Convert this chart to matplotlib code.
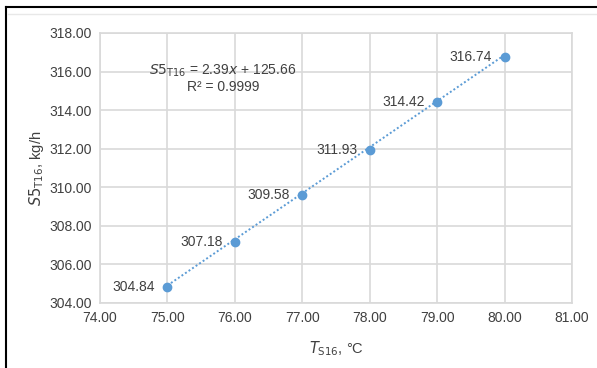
import matplotlib
matplotlib.use("Agg")
import matplotlib.pyplot as plt
import numpy as np
from matplotlib.lines import Line2D

x_vals = [75.0, 76.0, 77.0, 78.0, 79.0, 80.0]
y_vals = [304.84, 307.18, 309.58, 311.93, 314.42, 316.74]
labels = ["304.84", "307.18", "309.58", "311.93", "314.42", "316.74"]
slope, intercept = 2.39, 125.66
x_ticks = [74, 75, 76, 77, 78, 79, 80, 81]
y_ticks = [304, 306, 308, 310, 312, 314, 316, 318]

plt.rcParams['font.family'] = ['Liberation Sans Narrow', 'Liberation Sans', 'DejaVu Sans']
txt = '#404040'
blue = '#5b9bd5'

fig = plt.figure(figsize=(5.97, 3.68), dpi=100)
ax = fig.add_axes([100/597, 1-303/368, 472/597, 270/368])

# trendline
xt = np.array([x_vals[0], x_vals[-1]])
ax.plot(xt, slope*xt + intercept, linestyle=(0, (1, 1.2)), color=blue, lw=1.4, zorder=3)
ax.plot(x_vals, y_vals, 'o', color=blue, ms=6, zorder=4)
for x, y, l in zip(x_vals, y_vals, labels):
    ax.annotate(l, (x, y), xytext=(-9, 0), textcoords='offset points', ha='right',
                va='center', fontsize=10, color=txt)

ax.set_xlim(74, 81)
ax.set_ylim(304, 318)
ax.set_xticks(x_ticks)
ax.set_yticks(y_ticks)
ax.set_xticklabels([f"{v:.2f}" for v in x_ticks])
ax.set_yticklabels([f"{v:.2f}" for v in y_ticks])
ax.grid(True, color='#d9d9d9', lw=1.2)
ax.set_axisbelow(True)
for s in ax.spines.values():
    s.set_color('#d9d9d9')
    s.set_linewidth(1.2)
ax.tick_params(length=0, labelsize=10, colors=txt, pad=6)

ax.text(0.26, 0.86, r"$\mathit{S5}_{\mathrm{T16}}$ = 2.39$\mathit{x}$ + 125.66",
        transform=ax.transAxes, ha='center', va='center', fontsize=10, color=txt)
ax.text(0.26, 0.80, r"R² = 0.9999", transform=ax.transAxes, ha='center',
        va='center', fontsize=10, color=txt)

ax.set_ylabel(r"$\mathit{S5}_{\mathrm{T16}}$, kg/h", fontsize=10.5, color=txt, labelpad=2)
ax.set_xlabel(r"$\mathit{T}_{\mathrm{S16}}$, °C", fontsize=10.5, color=txt, labelpad=10)

# frame
fig.add_artist(Line2D([6/597, 6/597], [0, 1-7/368], transform=fig.transFigure, color='black', lw=1.5))
fig.add_artist(Line2D([6/597, 1], [1-7/368, 1-7/368], transform=fig.transFigure, color='black', lw=1.5))
fig.add_artist(Line2D([8/597, 1], [1-14/368, 1-14/368], transform=fig.transFigure, color='#e8e8e8', lw=1))

fig.savefig("out.png", dpi=100)
